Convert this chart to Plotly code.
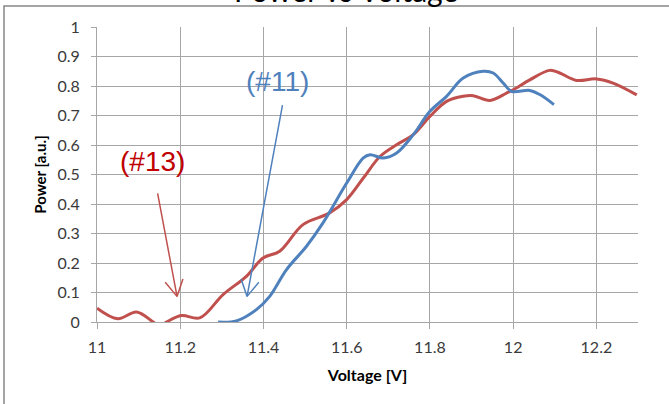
import plotly.graph_objects as go

# Measured power curves for two devices
voltage_13 = [11.0, 11.05, 11.095, 11.135, 11.15, 11.167, 11.203, 11.247, 11.303, 11.359, 11.399,
              11.439, 11.495, 11.558, 11.6, 11.64, 11.68, 11.72, 11.76, 11.8, 11.84, 11.88,
              11.904, 11.944, 11.984, 12.0, 12.04, 12.088, 12.112, 12.152, 12.2, 12.24, 12.297]
power_13 = [0.047, 0.011, 0.034, 0.0, -0.015, 0.0, 0.022, 0.014, 0.093, 0.155, 0.217,
            0.24, 0.33, 0.369, 0.415, 0.488, 0.561, 0.601, 0.635, 0.697, 0.748, 0.765,
            0.767, 0.751, 0.776, 0.787, 0.821, 0.853, 0.844, 0.819, 0.824, 0.81, 0.77]

voltage_11 = [11.291, 11.335, 11.383, 11.415, 11.455, 11.503, 11.543, 11.6, 11.64, 11.656,
              11.688, 11.72, 11.76, 11.8, 11.84, 11.88, 11.928, 11.952, 11.976, 11.996,
              12.04, 12.064, 12.098]
power_11 = [0.0, 0.004, 0.042, 0.087, 0.177, 0.256, 0.336, 0.471, 0.556, 0.567,
            0.556, 0.573, 0.635, 0.714, 0.765, 0.827, 0.85, 0.844, 0.81, 0.782,
            0.785, 0.771, 0.737]

x_ticks = [11.0, 11.2, 11.4, 11.6, 11.8, 12.0, 12.2]
x_tick_text = ["11", "11.2", "11.4", "11.6", "11.8", "12", "12.2"]
y_ticks = [0, 0.1, 0.2, 0.3, 0.4, 0.5, 0.6, 0.7, 0.8, 0.9, 1.0]
y_tick_text = ["0", "0.1", "0.2", "0.3", "0.4", "0.5", "0.6", "0.7", "0.8", "0.9", "1"]

RED = "#C0504D"
BLUE = "#4F81BD"
GRID = "#A6A6A6"
TEXT = "#3a3a3a"

W, H = 669, 404
L, R, T, B = 97, 31, 27, 82
X_RANGE = [11.0, 12.3]
Y_RANGE = [0.0, 1.0]
pw, ph = W - L - R, H - T - B
kx = pw / (X_RANGE[1] - X_RANGE[0])
ky = ph / (Y_RANGE[1] - Y_RANGE[0])

fig = go.Figure()
fig.add_trace(go.Scatter(x=voltage_13, y=power_13, mode="lines",
                         line=dict(color=RED, width=3, shape="spline", smoothing=1.0),
                         showlegend=False, hoverinfo="skip"))
fig.add_trace(go.Scatter(x=voltage_11, y=power_11, mode="lines",
                         line=dict(color=BLUE, width=3, shape="spline", smoothing=1.0),
                         showlegend=False, hoverinfo="skip"))

shapes = []
annotations = []


def pointer(tail, tip, color, label, label_pos, label_color):
    """Thin arrow with an open V head plus its label."""
    annotations.append(dict(x=tip[0], y=tip[1], ax=tail[0], ay=tail[1], xref="x", yref="y",
                            axref="x", ayref="y", showarrow=True, arrowhead=0,
                            arrowwidth=1.5, arrowcolor=color, text=""))
    dx = (tip[0] - tail[0]) * kx
    dy = (tip[1] - tail[1]) * ky
    n = (dx * dx + dy * dy) ** 0.5
    ux, uy = dx / n, dy / n
    back, side = 16.0, 9.0
    for s in (1, -1):
        px = -back * ux + s * side * (-uy)
        py = -back * uy + s * side * ux
        shapes.append(dict(type="line", xref="x", yref="y",
                           x0=tip[0], y0=tip[1], x1=tip[0] + px / kx, y1=tip[1] + py / ky,
                           line=dict(color=color, width=1.5)))
    annotations.append(dict(x=label_pos[0], y=label_pos[1], xref="x", yref="y",
                            text=label, showarrow=False,
                            font=dict(family="Liberation Sans, Arial", size=28, color=label_color)))


pointer((11.145, 0.441), (11.1923, 0.0868), RED, "(#13)", (11.134, 0.543), "#C00000")
pointer((11.4464, 0.74), (11.3606, 0.0868), BLUE, "(#11)", (11.434, 0.815), BLUE)

# chart frame
shapes.append(dict(type="rect", xref="paper", yref="paper",
                   x0=(4 - L) / pw, x1=(W + 20 - L) / pw,
                   y0=-(H + 20 - T - ph) / ph, y1=(ph + T - 6) / ph,
                   line=dict(color="#868686", width=1.5), fillcolor="rgba(0,0,0,0)", layer="below"))

annotations.append(dict(x=(346 - L) / pw, y=(ph + T - 10) / ph, xref="paper", yref="paper",
                        xanchor="center", yanchor="bottom", showarrow=False,
                        text="Power vs Voltage",
                        font=dict(family="Lato", size=30, color="#000000")))

fig.update_layout(
    width=W, height=H,
    margin=dict(l=L, r=R, t=T, b=B, pad=0),
    paper_bgcolor="white", plot_bgcolor="white",
    shapes=shapes, annotations=annotations,
    font=dict(family="Lato", color=TEXT),
)
fig.update_xaxes(range=X_RANGE, tickvals=x_ticks, ticktext=x_tick_text,
                 showgrid=True, gridcolor=GRID, gridwidth=1,
                 showline=True, linecolor=GRID, linewidth=1,
                 ticks="outside", ticklen=6, tickcolor=GRID, zeroline=False,
                 ticklabelstandoff=5,
                 tickfont=dict(family="Lato", size=16, color=TEXT),
                 title=dict(text="<b>Voltage [V]</b>", standoff=14,
                            font=dict(family="Lato", size=16, color="#000000")))
fig.update_yaxes(range=Y_RANGE, tickvals=y_ticks, ticktext=y_tick_text,
                 showgrid=True, gridcolor=GRID, gridwidth=1,
                 showline=True, linecolor=GRID, linewidth=1,
                 ticks="outside", ticklen=5, tickcolor=GRID, zeroline=False,
                 ticklabelstandoff=8,
                 tickfont=dict(family="Lato", size=16, color=TEXT),
                 title=dict(text="<b>Power [a.u.]</b>", standoff=7,
                            font=dict(family="Lato", size=15, color="#000000")))

fig.write_html("out.html")
